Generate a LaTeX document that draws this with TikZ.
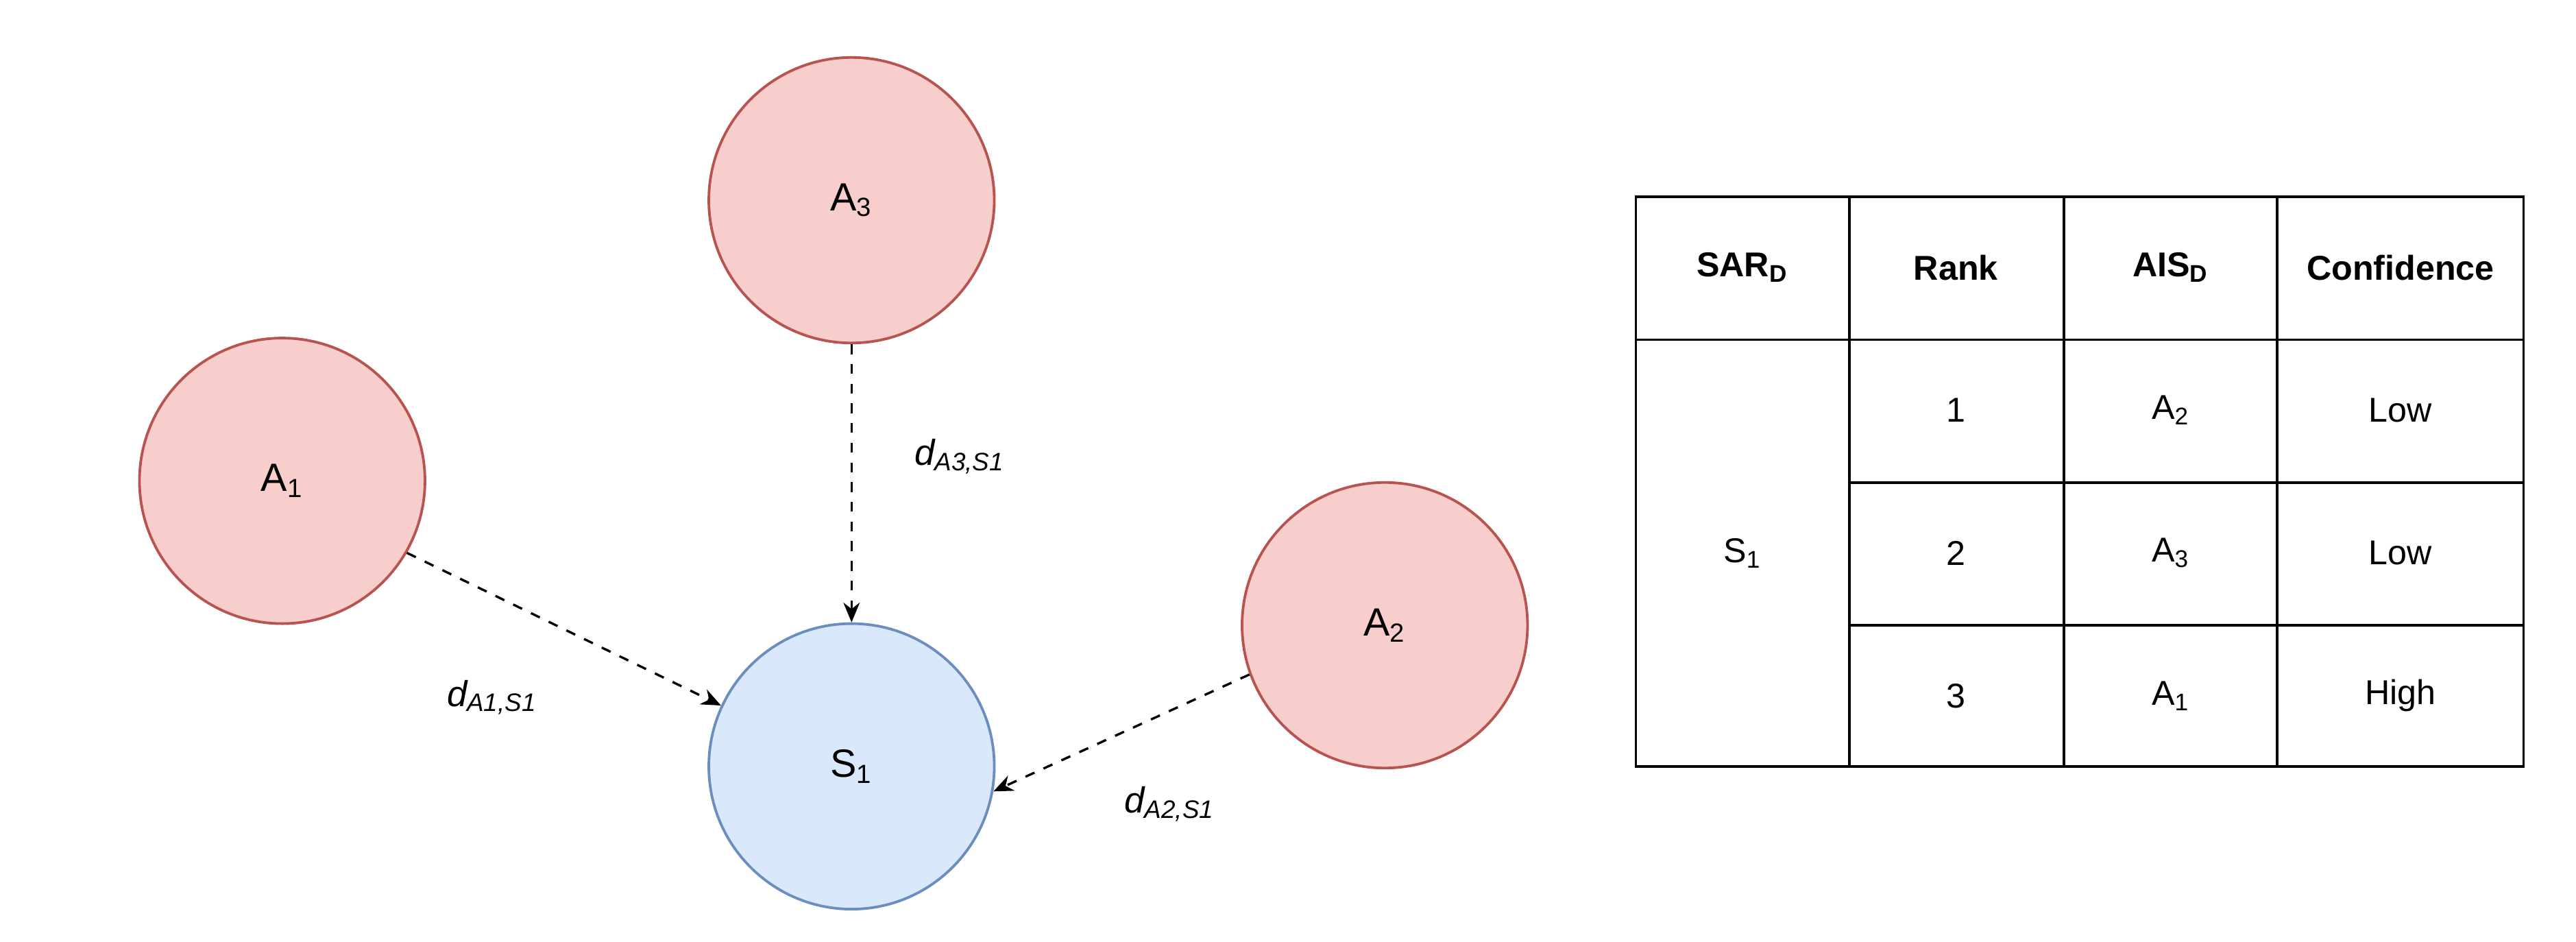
\documentclass[tikz,border=0pt]{standalone}
\usepackage{fontspec}
\setmainfont{Liberation Sans}
\usetikzlibrary{arrows.meta}
\definecolor{rf}{HTML}{F8CECC}\definecolor{rd}{HTML}{B85450}
\definecolor{bf}{HTML}{DAE8FC}\definecolor{bd}{HTML}{6C8EBF}
\begin{document}
\begin{tikzpicture}[x=0.5pt,y=-0.5pt,
 red/.style={circle,draw=rd,fill=rf,line width=0.8pt,minimum size=87pt,inner sep=0pt,font=\fontsize{12}{14}\selectfont},
 blue/.style={red,draw=bd,fill=bf},
 arr/.style={dashed,line width=0.7pt,-{Stealth[length=6pt,width=5pt]}},
 lab/.style={font=\fontsize{11}{13}\selectfont\itshape},
 cell/.style={font=\fontsize{10.5}{12}\selectfont}]
\useasboundingbox (0,0) rectangle (1570,574);
\node[red] (a3) at (519,122) {A\textsubscript{3}};
\node[red] (a1) at (172,293) {A\textsubscript{1}};
\node[red] (a2) at (844,381) {A\textsubscript{2}};
\node[blue] (s1) at (519,467) {S\textsubscript{1}};
\draw[arr] (a3) -- (s1);
\draw[arr] (a1.-30) -- (s1.155);
\draw[arr] (a2.200) -- (s1.-10);
\node[lab] (l3) at (585,278) {d\textsubscript{A3,S1}};
\node[lab] (l1) at (300,425) {d\textsubscript{A1,S1}};
\node[lab] (l2) at (713,490) {d\textsubscript{A2,S1}};
\draw[line width=0.8pt] (997,120) rectangle (1538,467);
\draw[line width=0.8pt] (997,207) -- (1538,207);
\draw[line width=0.8pt] (1127,294) -- (1538,294) (1127,381) -- (1538,381);
\foreach \x in {1127,1258,1388} \draw[line width=0.8pt] (\x,120) -- (\x,467);
\node[cell,font=\fontsize{10.5}{12}\selectfont\bfseries] (h1) at (1062,163) {SAR\textsubscript{D}};
\node[cell,font=\fontsize{10.5}{12}\selectfont\bfseries] (h2) at (1192,163) {Rank};
\node[cell,font=\fontsize{10.5}{12}\selectfont\bfseries] (h3) at (1323,163) {AIS\textsubscript{D}};
\node[cell,font=\fontsize{10.5}{12}\selectfont\bfseries] (h4) at (1463,163) {Confidence};
\node[cell] (c0) at (1062,337) {S\textsubscript{1}};
\node[cell] (r1a) at (1192,250) {1};\node[cell] (r1b) at (1323,250) {A\textsubscript{2}};\node[cell] (r1c) at (1463,250) {Low};
\node[cell] (r2a) at (1192,337) {2};\node[cell] (r2b) at (1323,337) {A\textsubscript{3}};\node[cell] (r2c) at (1463,337) {Low};
\node[cell] (r3a) at (1192,424) {3};\node[cell] (r3b) at (1323,424) {A\textsubscript{1}};\node[cell] (r3c) at (1463,424) {High};
\end{tikzpicture}
\end{document}
